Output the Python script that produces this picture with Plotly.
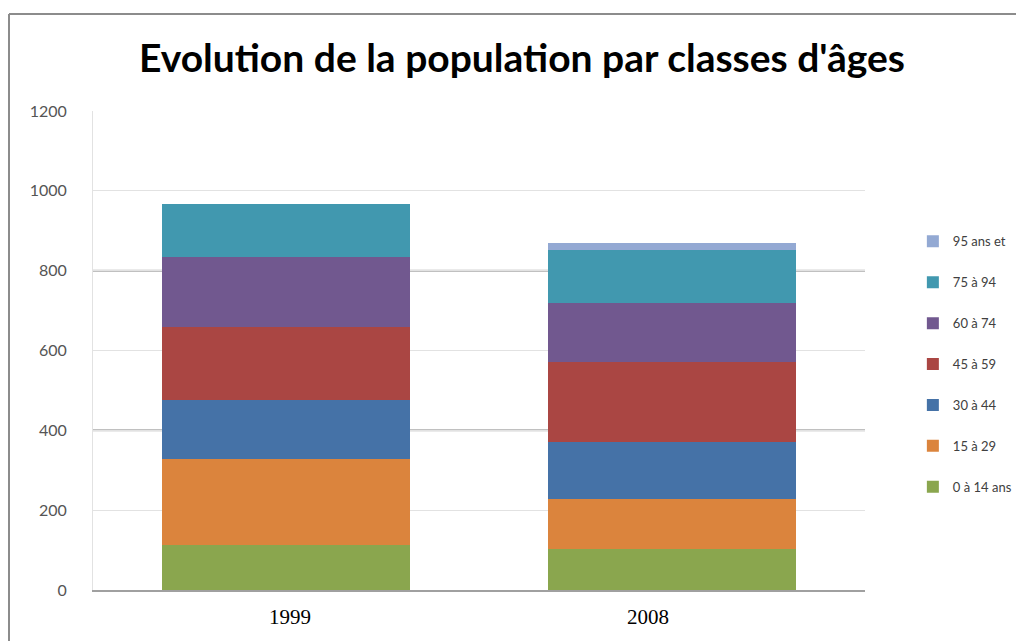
import plotly.graph_objects as go

years = ["1999", "2008"]
age_classes = ["0 à 14 ans", "15 à 29", "30 à 44", "45 à 59", "60 à 74", "75 à 94", "95 ans et"]
pop_0_14 = [112, 102]
pop_15_29 = [215, 125]
pop_30_44 = [150, 144]
pop_45_59 = [181, 201]
pop_60_74 = [175, 147]
pop_75_94 = [134, 132]
pop_95_plus = [0, 18]
series_values = [pop_0_14, pop_15_29, pop_30_44, pop_45_59, pop_60_74, pop_75_94, pop_95_plus]
colors = ["#8AA64E", "#DB843D", "#4572A7", "#AA4643", "#71588F", "#4198AF", "#93A9D3"]

y_ticks = [0, 200, 400, 600, 800, 1000, 1200]
strong_grid = [400, 800]
label_shift = [4, -24]

fig = go.Figure()
n = len(age_classes)
for i, (name, vals, col) in enumerate(zip(age_classes, series_values, colors)):
    fig.add_trace(go.Bar(
        x=years, y=vals, name=name, legendgroup=name, legendrank=100 + (n - i),
        marker=dict(color=col, line=dict(width=0)),
    ))

for g in strong_grid:
    fig.add_shape(type="line", xref="paper", yref="y", x0=0, x1=1, y0=g, y1=g,
                  line=dict(color="#ABABAB", width=2), layer="below")

for idx, (yr, sh) in enumerate(zip(years, label_shift)):
    fig.add_annotation(x=idx, y=0, xref="x", yref="y", yanchor="top", yshift=-13, xshift=sh,
                       text=yr, showarrow=False,
                       font=dict(family="Liberation Serif", size=21, color="#000000"))

# outer frame (left and top edges)
fig.add_shape(type="line", xref="paper", yref="paper", x0=-0.1088, x1=-0.1088, y0=-0.2, y1=1.2025,
              line=dict(color="#8C8C8C", width=2))
fig.add_shape(type="line", xref="paper", yref="paper", x0=-0.1088, x1=1.3, y0=1.2025, y1=1.2025,
              line=dict(color="#8C8C8C", width=2))

fig.update_layout(
    width=1016, height=641,
    margin=dict(l=93, r=151, t=111, b=51, autoexpand=False),
    paper_bgcolor="white", plot_bgcolor="white",
    barmode="stack", bargap=0.355,
    title=dict(text="<b>Evolution de la population par classes d'âges</b>",
               x=522 / 1016, xanchor="center", xref="container",
               y=1 - 58 / 641, yanchor="middle", yref="container",
               font=dict(family="Lato", size=39, color="#000000")),
    legend=dict(x=1.062, xanchor="left", y=0.471, yanchor="middle",
                traceorder="grouped", tracegroupgap=21,
                font=dict(family="Lato", size=13, color="#404040"),
                itemwidth=30, bgcolor="rgba(0,0,0,0)"),
    showlegend=True,
)
fig.update_xaxes(type="category", range=[-0.5, 1.5], showticklabels=False, showgrid=False,
                 showline=True, linecolor="#A0A0A0", linewidth=2, ticks="", zeroline=False)
fig.update_yaxes(range=[0, 1200], tickvals=y_ticks, ticktext=[str(v) for v in y_ticks],
                 showgrid=True, gridcolor="#E2E2E2", gridwidth=1,
                 showline=True, linecolor="#E2E2E2", linewidth=1,
                 ticks="outside", ticklen=22, tickcolor="rgba(0,0,0,0)",
                 tickfont=dict(family="Lato", size=16, color="#555555"), zeroline=False)

fig.write_html("out.html", config={"displayModeBar": False},
               post_script="document.body.style.margin='0';")
